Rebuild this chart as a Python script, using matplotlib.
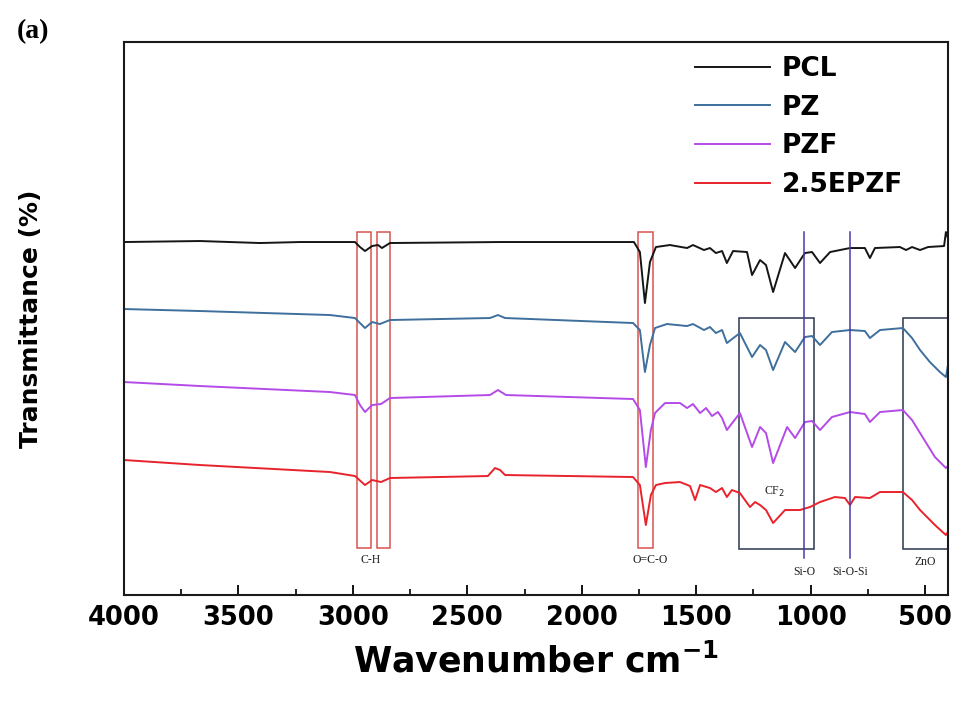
import matplotlib
matplotlib.use("Agg")
import matplotlib.pyplot as plt
from matplotlib.patches import Rectangle
from matplotlib.ticker import MultipleLocator

# FTIR spectra (wavenumber in cm-1, transmittance in arb. units)
pcl_w = [4000, 3668, 3406, 3231, 2991, 2969, 2947, 2916, 2890, 2873, 2838, 2357, 1772, 1746,
         1724, 1702, 1676, 1615, 1540, 1514, 1466, 1440, 1414, 1387, 1366, 1339, 1278, 1256,
         1221, 1195, 1164, 1112, 1068, 1025, 994, 959, 915, 828, 763, 741, 719, 610, 583, 557,
         522, 487, 417, 409, 400]
pcl_t = [70.6, 70.8, 70.4, 70.6, 70.6, 69.6, 68.8, 69.8, 70.0, 69.4, 70.4, 70.6, 70.6, 68.6,
         58.4, 66.6, 69.6, 70.0, 69.4, 70.0, 69.0, 69.4, 68.4, 68.8, 66.4, 68.8, 68.6, 64.0,
         67.0, 66.0, 60.6, 68.4, 65.4, 68.4, 68.6, 66.4, 68.6, 69.4, 69.4, 67.4, 69.4, 69.6, 69.0,
         69.6, 69.0, 69.6, 69.8, 72.6, 71.4]

pz_w = [4000, 3668, 3100, 2991, 2947, 2916, 2882, 2838, 2401, 2366, 2335, 1776, 1746, 1724,
        1702, 1680, 1628, 1540, 1514, 1466, 1440, 1414, 1387, 1366, 1309, 1256, 1221, 1195,
        1164, 1112, 1068, 1025, 994, 959, 907, 828, 763, 741, 697, 597, 557, 522, 479, 435,
        409, 400]
pz_t = [57.2, 56.8, 56.0, 55.4, 53.4, 54.6, 54.2, 55.0, 55.4, 56.0, 55.4, 54.4, 53.0, 44.6,
        50.0, 53.4, 54.2, 53.8, 54.2, 53.0, 53.6, 52.4, 53.0, 50.4, 52.4, 47.6, 50.0, 49.0,
        45.0, 50.6, 48.6, 51.6, 51.8, 50.0, 52.6, 53.0, 52.8, 51.4, 53.0, 53.4, 51.4, 49.0,
        46.6, 44.6, 43.6, 46.0]

pzf_w = [4000, 3668, 3100, 2991, 2969, 2947, 2916, 2877, 2838, 2401, 2366, 2331, 1776, 1746,
         1720, 1698, 1680, 1636, 1571, 1540, 1514, 1483, 1457, 1431, 1405, 1387, 1366, 1309,
         1256, 1221, 1195, 1164, 1103, 1068, 1025, 994, 959, 907, 828, 763, 741, 697, 597,
         557, 522, 457, 409, 400]
pzf_t = [42.6, 41.8, 40.6, 40.0, 38.0, 36.6, 38.0, 38.2, 39.4, 40.0, 41.0, 40.0, 39.2, 37.0,
         25.6, 33.0, 36.4, 38.4, 38.4, 37.4, 38.2, 36.4, 37.4, 35.8, 36.6, 35.4, 33.0, 36.4,
         29.6, 33.6, 32.4, 26.4, 33.6, 31.4, 34.6, 34.8, 33.0, 35.6, 36.6, 36.2, 34.6, 36.6, 37.0,
         35.0, 32.4, 27.6, 25.4, 25.8]

epzf_w = [4000, 3668, 3100, 2991, 2947, 2916, 2877, 2838, 2410, 2379, 2357, 2335, 1776, 1746,
          1720, 1698, 1676, 1636, 1571, 1527, 1505, 1483, 1440, 1414, 1387, 1366, 1344, 1309,
          1265, 1243, 1221, 1195, 1164, 1112, 1047, 1003, 959, 894, 850, 828, 806, 741, 697,
          597, 557, 522, 457, 409, 400]
epzf_t = [27.0, 26.0, 24.6, 23.8, 22.0, 23.0, 22.6, 23.4, 23.8, 25.4, 25.0, 24.0, 23.6, 22.0,
          14.0, 20.0, 22.0, 22.4, 22.6, 21.8, 19.0, 22.0, 21.4, 20.6, 21.4, 19.6, 21.0, 20.4,
          17.6, 18.6, 18.0, 17.0, 14.4, 17.0, 17.0, 17.6, 18.6, 19.6, 19.4, 18.0, 19.6, 19.4, 20.6,
          20.6, 19.0, 17.0, 14.0, 12.0, 12.6]

# band annotations
red_boxes = [(2982, 2921), (2895, 2838), (1755, 1689)]   # C-H, C-H, O=C-O
blue_boxes = [(1313, 985), (597, 400)]                    # CF2, ZnO
si_lines = [1029, 828]                                    # Si-O, Si-O-Si

fig = plt.figure(figsize=(9.56, 7.04), dpi=100)
ax = fig.add_axes([0.1297, 0.1548, 0.8619, 0.7855])

ax.plot(pcl_w, pcl_t, color="#151515", lw=1.4, label="PCL")
ax.plot(pz_w, pz_t, color="#3f6f9c", lw=1.4, label="PZ")
ax.plot(pzf_w, pzf_t, color="#b44be8", lw=1.4, label="PZF")
ax.plot(epzf_w, epzf_t, color="#e8232b", lw=1.4, label="2.5EPZF")

for hi, lo in red_boxes:
    ax.add_patch(Rectangle((lo, 9.4), hi - lo, 72.6 - 9.4, fill=False,
                           edgecolor="#d9534f", lw=1.1))
for hi, lo in blue_boxes:
    ax.add_patch(Rectangle((lo, 9.2), hi - lo, 55.4 - 9.2, fill=False,
                           edgecolor="#2b3550", lw=1.1))
for w in si_lines:
    ax.plot([w, w], [7.4, 72.6], color="#4a3aa8", lw=1.1)

tfont = dict(family="Liberation Serif", fontsize=8.5, color="#222222")
ax.text(2921, 7.0, "C-H", ha="center", va="center", **tfont)
ax.text(1702, 7.0, "O=C-O", ha="center", va="center", **tfont)
ax.text(1156, 20.6, "CF$_2$", ha="center", va="center", **tfont)
ax.text(1029, 4.6, "Si-O", ha="center", va="center", **tfont)
ax.text(828, 4.6, "Si-O-Si", ha="center", va="center", **tfont)
ax.text(500, 6.6, "ZnO", ha="center", va="center", **tfont)

ax.set_xlim(4000, 400)
ax.set_ylim(0, 110.6)
ax.set_yticks([])
ax.xaxis.set_major_locator(MultipleLocator(500))
ax.xaxis.set_minor_locator(MultipleLocator(250))
ax.tick_params(axis="x", which="major", direction="in", length=7, width=1.3,
               labelsize=18.5, pad=7)
ax.tick_params(axis="x", which="minor", direction="in", length=4, width=1.2)
for lab in ax.get_xticklabels():
    lab.set_fontfamily("DejaVu Sans")
    lab.set_fontweight("bold")
for s in ax.spines.values():
    s.set_linewidth(1.5)
    s.set_color("#1a1a1a")

ax.set_xlabel("Wavenumber cm$^{\\mathbf{-1}}$", fontsize=25, fontweight="bold",
              family="DejaVu Sans", labelpad=9)
ax.set_ylabel("Transmittance (%)", fontsize=18, fontweight="bold",
              family="DejaVu Sans", labelpad=58)

leg = ax.legend(loc="upper left", bbox_to_anchor=(0.693, 0.975), frameon=False,
                prop=dict(family="DejaVu Sans", weight="bold", size=19),
                handlelength=2.85, handletextpad=0.45, labelspacing=0.48,
                borderpad=0, borderaxespad=0)

fig.text(0.034, 0.955, "(a)", family="Liberation Serif", fontweight="bold",
         fontsize=20, ha="center", va="center")

fig.savefig("out.png", dpi=100)
